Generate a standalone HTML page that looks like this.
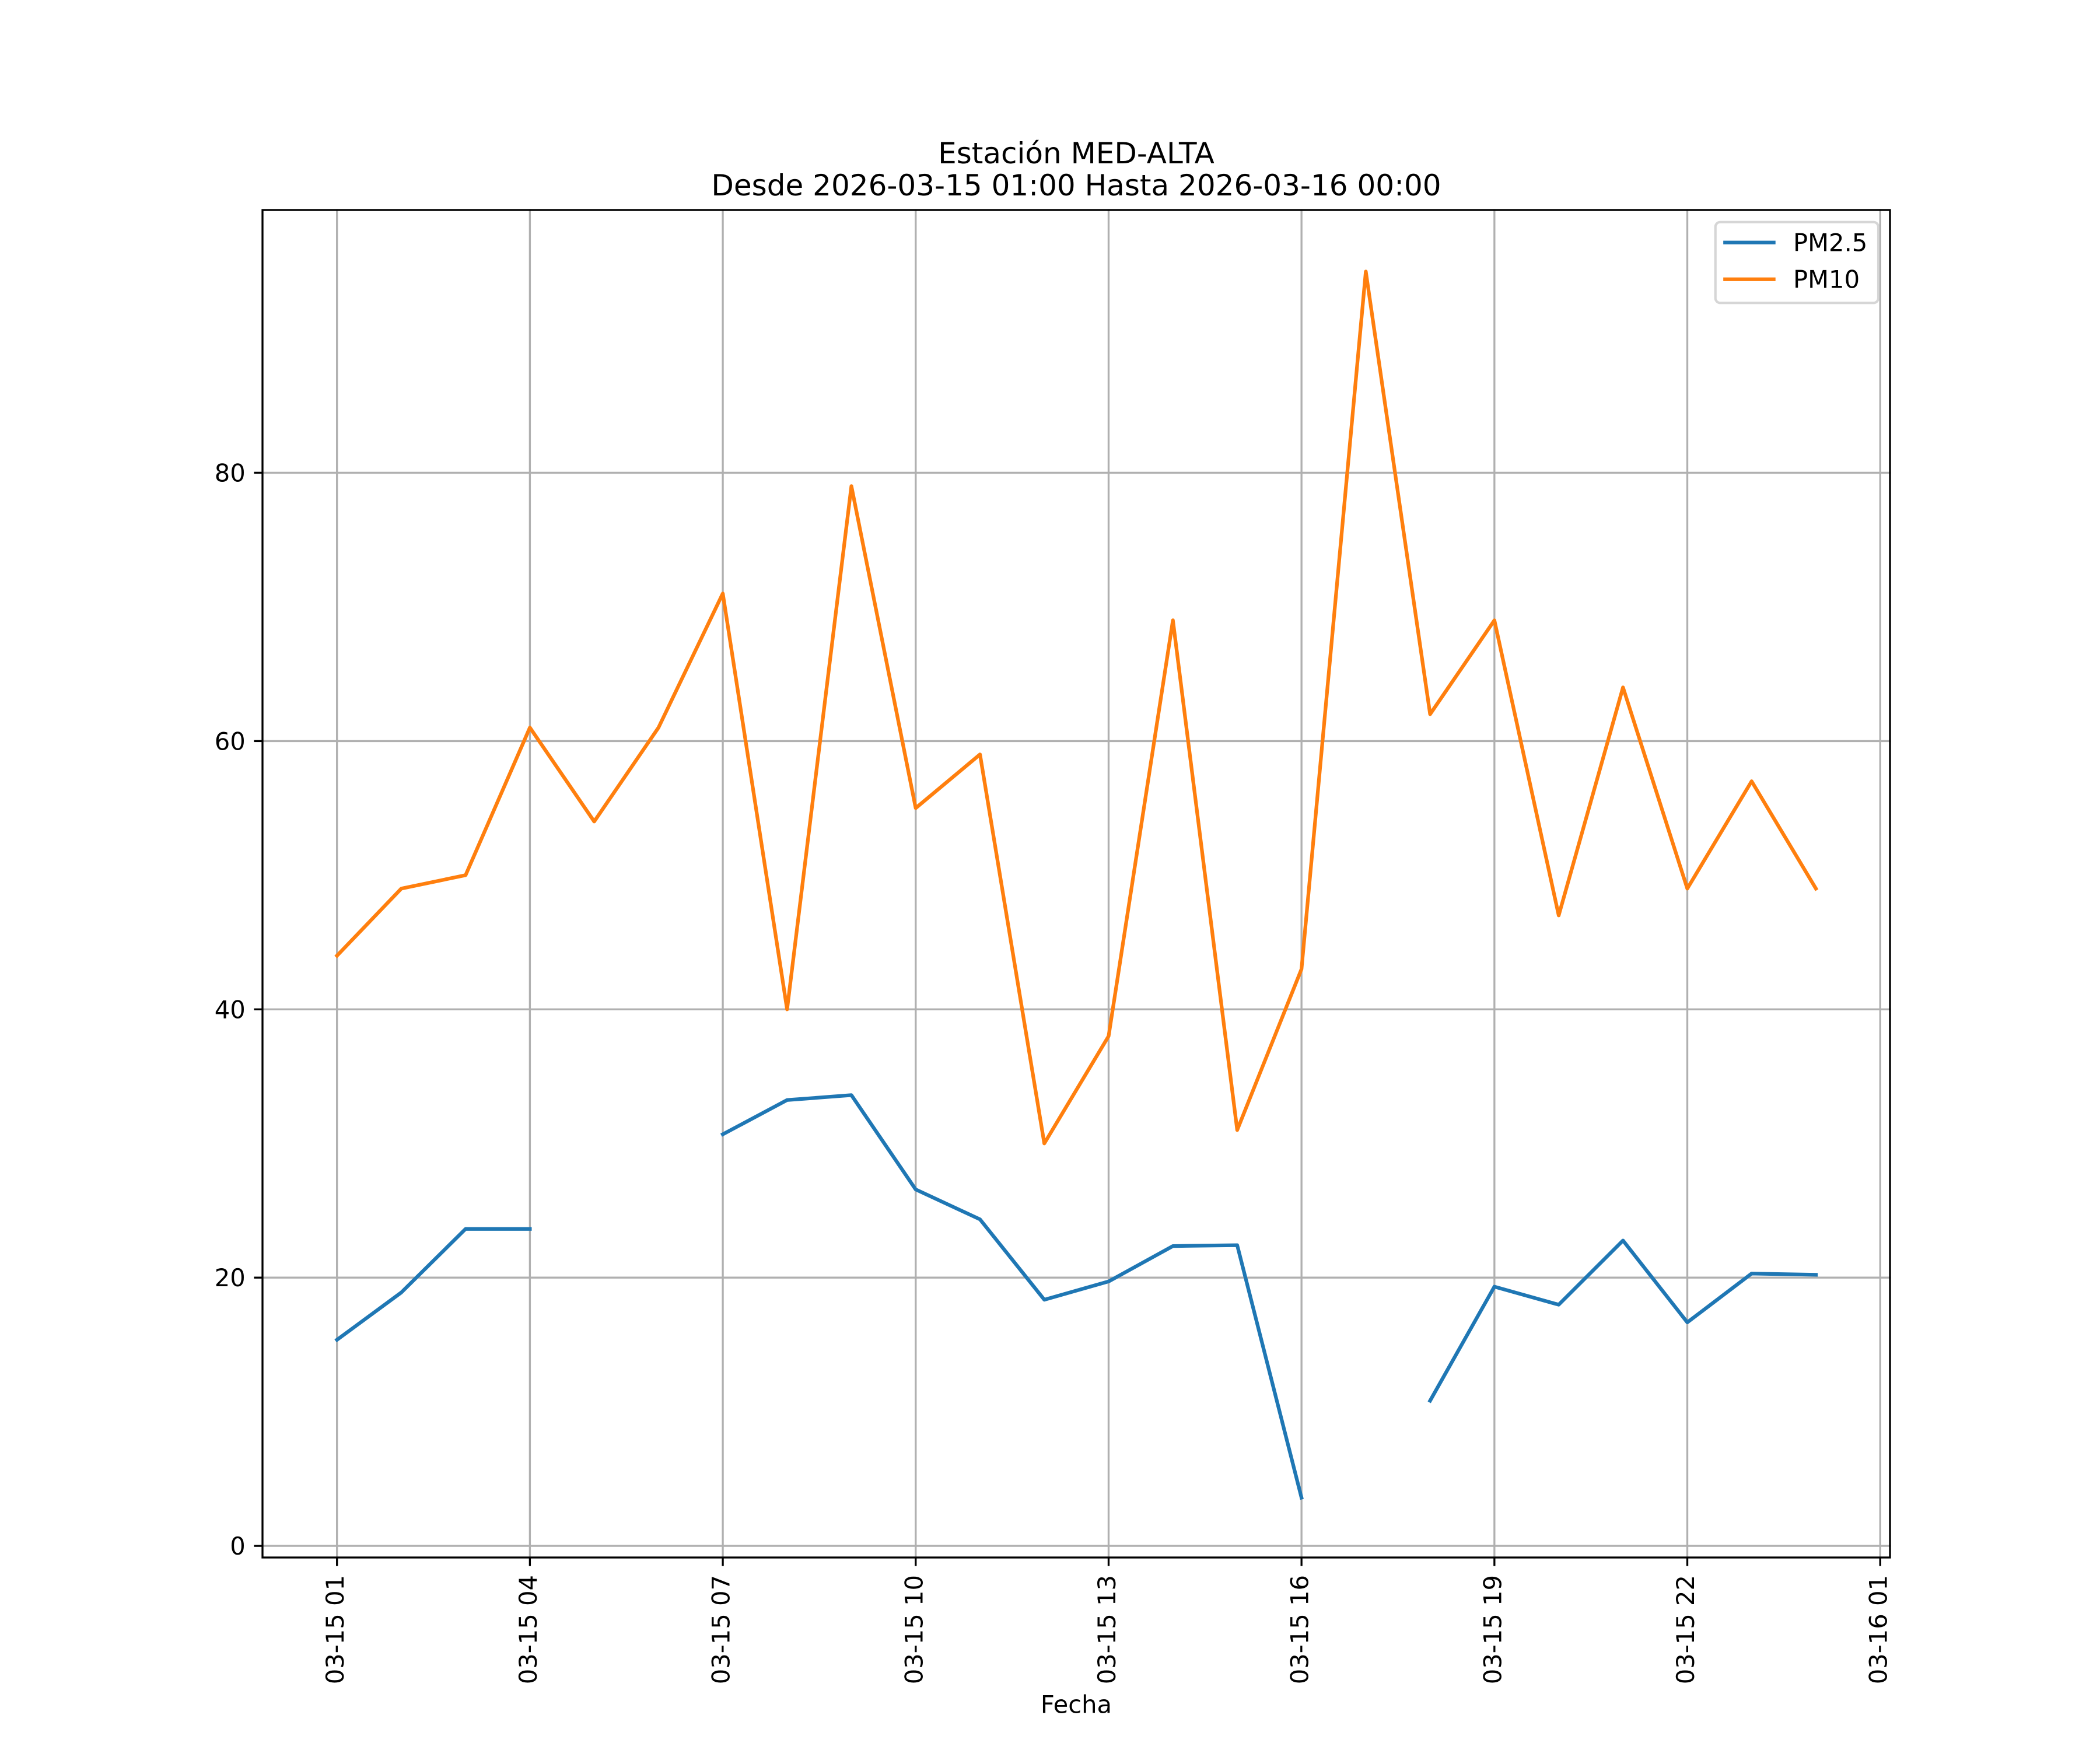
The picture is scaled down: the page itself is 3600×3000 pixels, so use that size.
<!DOCTYPE html>
<html>
<head>
<meta charset="utf-8">
<style>
  html, body { margin: 0; padding: 0; background: #ffffff; }
  svg { display: block; }
  text { font-family: "DejaVu Sans", "Liberation Sans", sans-serif; fill: #000000; }
</style>
</head>
<body>
<svg width="3600" height="3000" viewBox="0 0 3600 3000" xmlns="http://www.w3.org/2000/svg">
  <rect x="0" y="0" width="3600" height="3000" fill="#ffffff"/>

  <!-- Title -->
  <text x="1845" y="280" font-size="50" text-anchor="middle">Estación MED-ALTA</text>
  <text x="1845" y="335" font-size="50" text-anchor="middle">Desde 2026-03-15 01:00 Hasta 2026-03-16 00:00</text>

  <!-- Grid lines -->
  <g stroke="#b0b0b0" stroke-width="3.33" fill="none" stroke-linecap="square">
    <!-- vertical -->
    <line x1="577.7" y1="360" x2="577.7" y2="2670"/>
    <line x1="908.39" y1="360" x2="908.39" y2="2670"/>
    <line x1="1239.08" y1="360" x2="1239.08" y2="2670"/>
    <line x1="1569.77" y1="360" x2="1569.77" y2="2670"/>
    <line x1="1900.46" y1="360" x2="1900.46" y2="2670"/>
    <line x1="2231.15" y1="360" x2="2231.15" y2="2670"/>
    <line x1="2561.84" y1="360" x2="2561.84" y2="2670"/>
    <line x1="2892.53" y1="360" x2="2892.53" y2="2670"/>
    <line x1="3223.22" y1="360" x2="3223.22" y2="2670"/>
    <!-- horizontal -->
    <line x1="450" y1="2650.1" x2="3240" y2="2650.1"/>
    <line x1="450" y1="2190.2" x2="3240" y2="2190.2"/>
    <line x1="450" y1="1730.3" x2="3240" y2="1730.3"/>
    <line x1="450" y1="1270.4" x2="3240" y2="1270.4"/>
    <line x1="450" y1="810.4" x2="3240" y2="810.4"/>
  </g>

  <!-- PM2.5 series -->
  <g stroke="#1f77b4" stroke-width="6.25" fill="none" stroke-linecap="square" stroke-linejoin="round">
    <polyline points="577.7,2296.8 687.93,2215.7 798.16,2106.7 908.39,2106.7"/>
    <polyline points="1239.08,1944.5 1349.31,1885.8 1459.54,1877.4 1569.77,2039.1 1680.0,2090.3 1790.23,2228.1 1900.46,2196.8 2010.69,2136.1 2120.92,2134.6 2231.15,2567.4"/>
    <polyline points="2451.61,2401.2 2561.84,2205.7 2672.07,2236.6 2782.3,2126.6 2892.53,2266.9 3002.76,2183.3 3112.99,2185.3"/>
  </g>

  <!-- PM10 series -->
  <g stroke="#ff7f0e" stroke-width="6.25" fill="none" stroke-linecap="square" stroke-linejoin="round">
    <polyline points="577.7,1638.3 687.93,1523.3 798.16,1500.3 908.39,1247.3 1018.62,1408.3 1128.85,1247.3 1239.08,1017.4 1349.31,1730.3 1459.54,833.4 1569.77,1385.3 1680.0,1293.3 1790.23,1960.2 1900.46,1776.3 2010.69,1063.4 2120.92,1937.2 2231.15,1661.3 2341.38,465.5 2451.61,1224.3 2561.84,1063.4 2672.07,1569.3 2782.3,1178.4 2892.53,1523.3 3002.76,1339.3 3112.99,1523.3"/>
  </g>

  <!-- Axes spines -->
  <rect x="450" y="360" width="2790" height="2310" fill="none" stroke="#000000" stroke-width="3.33" stroke-linejoin="miter"/>

  <!-- Ticks -->
  <g stroke="#000000" stroke-width="3.33">
    <!-- x ticks -->
    <line x1="577.7" y1="2670" x2="577.7" y2="2684.6"/>
    <line x1="908.39" y1="2670" x2="908.39" y2="2684.6"/>
    <line x1="1239.08" y1="2670" x2="1239.08" y2="2684.6"/>
    <line x1="1569.77" y1="2670" x2="1569.77" y2="2684.6"/>
    <line x1="1900.46" y1="2670" x2="1900.46" y2="2684.6"/>
    <line x1="2231.15" y1="2670" x2="2231.15" y2="2684.6"/>
    <line x1="2561.84" y1="2670" x2="2561.84" y2="2684.6"/>
    <line x1="2892.53" y1="2670" x2="2892.53" y2="2684.6"/>
    <line x1="3223.22" y1="2670" x2="3223.22" y2="2684.6"/>
    <!-- y ticks -->
    <line x1="435.4" y1="2650.1" x2="450" y2="2650.1"/>
    <line x1="435.4" y1="2190.2" x2="450" y2="2190.2"/>
    <line x1="435.4" y1="1730.3" x2="450" y2="1730.3"/>
    <line x1="435.4" y1="1270.4" x2="450" y2="1270.4"/>
    <line x1="435.4" y1="810.4" x2="450" y2="810.4"/>
  </g>

  <!-- Y tick labels -->
  <g font-size="41.67" text-anchor="end">
    <text x="420.8" y="2665.1">0</text>
    <text x="420.8" y="2205.2">20</text>
    <text x="420.8" y="1745.3">40</text>
    <text x="420.8" y="1285.4">60</text>
    <text x="420.8" y="825.4">80</text>
  </g>

  <!-- X tick labels (rotated 90) -->
  <g font-size="41.67" text-anchor="end">
    <text transform="translate(589.2,2700) rotate(-90)">03-15 01</text>
    <text transform="translate(919.9,2700) rotate(-90)">03-15 04</text>
    <text transform="translate(1250.6,2700) rotate(-90)">03-15 07</text>
    <text transform="translate(1581.3,2700) rotate(-90)">03-15 10</text>
    <text transform="translate(1912.0,2700) rotate(-90)">03-15 13</text>
    <text transform="translate(2242.7,2700) rotate(-90)">03-15 16</text>
    <text transform="translate(2573.3,2700) rotate(-90)">03-15 19</text>
    <text transform="translate(2904.0,2700) rotate(-90)">03-15 22</text>
    <text transform="translate(3234.7,2700) rotate(-90)">03-16 01</text>
  </g>

  <!-- X axis label -->
  <text x="1845" y="2936.7" font-size="41.67" text-anchor="middle">Fecha</text>

  <!-- Legend -->
  <rect x="2940.7" y="380.7" width="279.3" height="138.6" rx="8.3" ry="8.3" fill="#ffffff" fill-opacity="0.8" stroke="#cccccc" stroke-opacity="0.8" stroke-width="4.17"/>
  <line x1="2957.3" y1="415.7" x2="3040.6" y2="415.7" stroke="#1f77b4" stroke-width="6.25" stroke-linecap="square"/>
  <line x1="2957.3" y1="478.7" x2="3040.6" y2="478.7" stroke="#ff7f0e" stroke-width="6.25" stroke-linecap="square"/>
  <text x="3074" y="430.5" font-size="41.67">PM2.5</text>
  <text x="3074" y="493.5" font-size="41.67">PM10</text>
</svg>
</body>
</html>
